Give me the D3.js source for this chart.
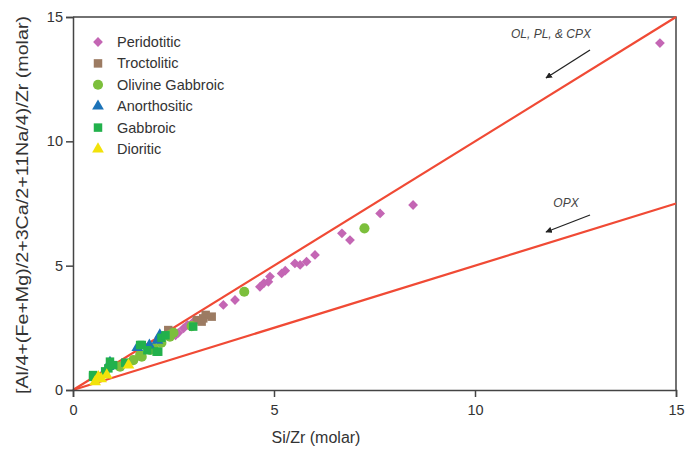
<!DOCTYPE html>
<html><head><meta charset="utf-8">
<script src="https://cdn.jsdelivr.net/npm/d3@7"></script>
<style>body{margin:0;background:#fff}svg{display:block}text{font-family:"Liberation Sans",Arial,sans-serif}</style>
</head><body><svg id="c" width="697" height="449"></svg>
<script>
const xTicks=[0,5,10,15];
const yTicks=[0,5,10,15];
const categories=["Peridotitic","Troctolitic","Olivine Gabbroic","Anorthositic","Gabbroic","Dioritic"];
const peridotitic=[[2.55,2.2],[2.62,2.3],[2.75,2.48],[2.85,2.62],[3.0,2.75],[3.74,3.42],[4.03,3.62],[4.65,4.15],[4.75,4.3],[4.86,4.35],[4.9,4.56],[5.19,4.69],[5.28,4.8],[5.52,5.09],[5.65,5.03],[5.81,5.16],[6.02,5.43],[6.69,6.3],[6.89,6.03],[7.64,7.1],[8.46,7.44],[14.6,13.95]];
const troctolitic=[[2.37,2.41],[2.45,2.3],[3.08,2.81],[3.24,2.88],[3.3,3.02],[3.45,2.95],[3.2,2.75]];
const olivineGabbroic=[[1.17,0.94],[1.5,1.2],[1.67,1.41],[1.71,1.34],[1.92,1.61],[2.0,1.7],[2.2,1.9],[2.41,2.14],[2.41,2.21],[2.5,2.3],[2.95,2.57],[4.26,3.95],[7.25,6.5]];
const anorthositic=[[0.88,0.94],[0.92,1.1],[1.6,1.7],[2.16,2.21],[2.1,2.0],[1.9,1.8]];
const gabbroic=[[0.5,0.53],[0.5,0.6],[0.8,0.75],[0.88,0.87],[0.92,1.14],[1.0,1.0],[1.3,1.1],[1.67,1.81],[1.71,1.81],[2.08,1.54],[2.12,1.54],[2.2,2.1],[2.3,2.2],[2.99,2.55],[1.85,1.6]];
const dioritic=[[0.55,0.33],[0.63,0.53],[0.84,0.6],[1.38,1.0],[0.7,0.45]];
const refLines=[{label:"OL, PL, & CPX",slope:1},{label:"OPX",slope:0.5}];

const seriesData=[peridotitic,troctolitic,olivineGabbroic,anorthositic,gabbroic,dioritic];
const colors=["#c466b4","#9c7b62","#7cbf3c","#1c73b8","#22b14c","#f2e20a"];
const shapes=[d3.symbolSquare,d3.symbolSquare,d3.symbolCircle,d3.symbolTriangle,d3.symbolSquare,d3.symbolTriangle];
const sizes=[48,72,80,60,72,60];
const rot=[45,0,0,0,0,0];

const svg=d3.select("#c");
const L=73,R=676,T=17,B=390;
const x=d3.scaleLinear().domain([0,15]).range([L,R]);
const y=d3.scaleLinear().domain([0,15]).range([B,T]);

// frame
svg.append("path").attr("d",`M${L},${T}H${R}V${B}`).attr("fill","none").attr("stroke","#444").attr("stroke-width",1.5);

// ref lines
refLines.forEach(r=>{
  svg.append("line").attr("x1",x(0)).attr("y1",y(0)).attr("x2",x(15)).attr("y2",y(15*r.slope))
    .attr("stroke","#f04a35").attr("stroke-width",2.2);
});

// points
seriesData.forEach((s,i)=>{
  svg.append("g").selectAll("path").data(s).join("path")
    .attr("d",d3.symbol().type(shapes[i]).size(sizes[i]))
    .attr("transform",d=>`translate(${x(d[0])},${y(d[1])}) rotate(${rot[i]})`)
    .attr("fill",colors[i]);
});

// axes
const xa=svg.append("g").attr("transform",`translate(0,${B})`).call(d3.axisBottom(x).tickValues(xTicks).tickSize(7).tickPadding(8));
const ya=svg.append("g").attr("transform",`translate(${L},0)`).call(d3.axisLeft(y).tickValues(yTicks).tickSize(7).tickPadding(3));
[xa,ya].forEach(a=>{
  a.select(".domain").attr("stroke","#444").attr("stroke-width",1.5);
  a.selectAll(".tick line").attr("stroke","#444").attr("stroke-width",1.5);
  a.selectAll(".tick text").attr("fill","#333").style("font-size","14.5px").style("font-family","'Liberation Sans',Arial,sans-serif");
});

// axis titles
svg.append("text").attr("x",316).attr("y",443).attr("text-anchor","middle").attr("fill","#333").style("font-size","16px").text("Si/Zr (molar)");
svg.append("text").attr("transform",`translate(28,205) rotate(-90)`).attr("text-anchor","middle").attr("fill","#333").style("font-size","16.5px")
  .attr("textLength",378).attr("lengthAdjust","spacingAndGlyphs").text("[Al/4+(Fe+Mg)/2+3Ca/2+11Na/4)/Zr (molar)");

// annotations
const ann=[{t:refLines[0].label,tx:551,ty:38,a:[590,50,546,78]},{t:refLines[1].label,tx:566,ty:207,a:[590,215,546,232]}];
svg.append("defs").append("marker").attr("id","ah").attr("viewBox","0 0 10 10").attr("refX",9).attr("refY",5)
  .attr("markerWidth",5).attr("markerHeight",5).attr("orient","auto")
  .append("path").attr("d","M0,0L10,5L0,10z").attr("fill","#222");
ann.forEach(a=>{
  svg.append("text").attr("x",a.tx).attr("y",a.ty).attr("text-anchor","middle").attr("fill","#444").style("font-size","12px").style("font-style","italic").text(a.t);
  svg.append("line").attr("x1",a.a[0]).attr("y1",a.a[1]).attr("x2",a.a[2]).attr("y2",a.a[3]).attr("stroke","#222").attr("stroke-width",1.3).attr("marker-end","url(#ah)");
});

// legend
categories.forEach((c,i)=>{
  const yy=42+i*21.4;
  svg.append("path").attr("d",d3.symbol().type(shapes[i]).size(sizes[i])).attr("transform",`translate(98,${yy}) rotate(${rot[i]})`).attr("fill",colors[i]);
  svg.append("text").attr("x",117).attr("y",yy+5).attr("fill","#333").style("font-size","14.5px").text(c);
});
</script></body></html>
